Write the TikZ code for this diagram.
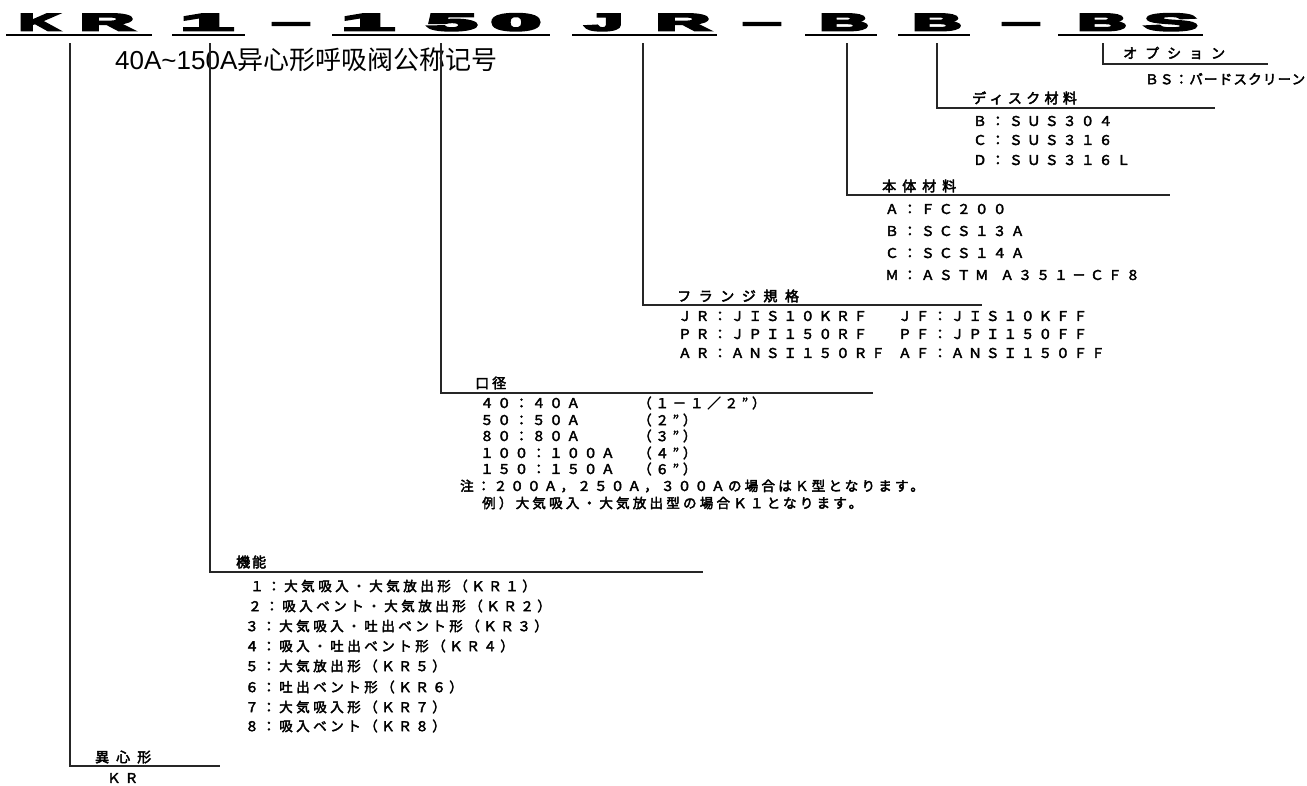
\documentclass[tikz,border=0pt]{standalone}
\usepackage{fontspec}
\setmainfont{Liberation Sans}
\newfontfamily\hvfont{Liberation Sans}[FakeBold=8]
\newfontfamily\jpfont{Noto Sans CJK JP}[FakeBold=3]
\newfontfamily\zhfont{Noto Sans CJK SC}
\newcommand\hc[2]{\scalebox{#1}[1]{#2}}
\tikzset{
  ln/.style={line width=1.3pt, draw=black!85},
  ul/.style={line width=1.8pt, draw=black},
  hd/.style={anchor=base, inner sep=0pt, font=\hvfont\bfseries\fontsize{24}{24}\selectfont},
  jt/.style={anchor=west, inner sep=0pt, font=\jpfont\fontsize{13.5}{13.5}\selectfont\addfontfeature{LetterSpace=#1}},
  jh/.style={anchor=west, inner sep=0pt, font=\jpfont\fontsize{14}{14}\selectfont\addfontfeature{LetterSpace=#1}},
}
\begin{document}
\begin{tikzpicture}[x=1pt,y=-1pt]
\useasboundingbox (0,0) rectangle (1307,785);
% header code
\node[hd] (hK) at (39,30.5) {\hc{2.3}{K}};
\node[hd] (hR) at (107,30.5) {\hc{3.1}{R}};
\node[hd] (h1) at (207,30.5) {\hc{3.9}{1}};
\node[hd] (dsh1) at (291,30.5) {\hc{2.8}{–}};
\node[hd] (h1b) at (368,30.5) {\hc{3.9}{1}};
\node[hd] (h5) at (452,30.5) {\hc{3.7}{5}};
\node[hd] (h0) at (516,30.5) {\hc{3.7}{0}};
\node[hd] (hJ) at (604,30.5) {\hc{2.8}{J}};
\node[hd] (hR2) at (683,30.5) {\hc{3.1}{R}};
\node[hd] (dsh2) at (762,30.5) {\hc{2.8}{–}};
\node[hd] (hB1) at (844,30.5) {\hc{2.8}{B}};
\node[hd] (hB2) at (937,30.5) {\hc{2.8}{B}};
\node[hd] (dsh3) at (1021,30.5) {\hc{2.8}{–}};
\node[hd] (hB3) at (1102,30.5) {\hc{2.8}{B}};
\node[hd] (hS) at (1171,30.5) {\hc{3.3}{S}};
% underlines
\coordinate (u1a) at (6,35);    \coordinate (u1b) at (152,35);
\coordinate (u2a) at (172,35);  \coordinate (u2b) at (245,35);
\coordinate (u3a) at (332,35);  \coordinate (u3b) at (550,35);
\coordinate (u4a) at (572,35);  \coordinate (u4b) at (717,35);
\coordinate (u5a) at (805,35);  \coordinate (u5b) at (877,35);
\coordinate (u6a) at (898,35);  \coordinate (u6b) at (970,35);
\coordinate (u7a) at (1058,35); \coordinate (u7b) at (1203,35);
\foreach \i in {1,...,7} {\draw[ul] (u\i a) -- (u\i b);}
% chinese title
\node[anchor=west, inner sep=0pt] (title) at (115,60)
  {\fontsize{26}{26}\selectfont 40A\textasciitilde150A\zhfont 异心形呼吸阀公称记号};
% option
\coordinate (o1) at (1103,43); \coordinate (o2) at (1103,64); \coordinate (o3) at (1268,64);
\draw[ln] (o1) -- (o2) -- (o3);
\node[jh=57] (optT) at (1123,53) {オプション};
\node[jt=9] (optA) at (1145,79) {ＢＳ：バードスクリーン};
% disc
\coordinate (d1) at (937,43); \coordinate (d2) at (937,108); \coordinate (d3) at (1215,108);
\draw[ln] (d1) -- (d2) -- (d3);
\node[jh=31] (discT) at (972,98) {ディスク材料};
\node[jt=33] (discB) at (973,121) {Ｂ：ＳＵＳ３０４};
\node[jt=33] (discC) at (973,140) {Ｃ：ＳＵＳ３１６};
\node[jt=33] (discD) at (973,160) {Ｄ：ＳＵＳ３１６Ｌ};
% body
\coordinate (b1) at (847,43); \coordinate (b2) at (847,195); \coordinate (b3) at (1170,195);
\draw[ln] (b1) -- (b2) -- (b3);
\node[jh=43] (bodyT) at (882,186) {本体材料};
\node[jt=33] (bodyA) at (885,209) {Ａ：ＦＣ２００};
\node[jt=33] (bodyB) at (885,231) {Ｂ：ＳＣＳ１３Ａ};
\node[jt=33] (bodyC) at (885,253) {Ｃ：ＳＣＳ１４Ａ};
\node[jt=33] (bodyM) at (885,275) {Ｍ：ＡＳＴＭ\hspace{12pt}Ａ３５１－ＣＦ８};
% flange
\coordinate (f1) at (643,43); \coordinate (f2) at (643,305); \coordinate (f3) at (982,305);
\draw[ln] (f1) -- (f2) -- (f3);
\node[jh=54] (flT) at (677,296) {フランジ規格};
\node[jt=30] (flJR) at (678,316) {ＪＲ：ＪＩＳ１０ＫＲＦ};
\node[jt=30] (flPR) at (678,334) {ＰＲ：ＪＰＩ１５０ＲＦ};
\node[jt=30] (flAR) at (678,353) {ＡＲ：ＡＮＳＩ１５０ＲＦ};
\node[jt=30] (flJF) at (898,316) {ＪＦ：ＪＩＳ１０ＫＦＦ};
\node[jt=30] (flPF) at (898,334) {ＰＦ：ＪＰＩ１５０ＦＦ};
\node[jt=30] (flAF) at (898,353) {ＡＦ：ＡＮＳＩ１５０ＦＦ};
% bore
\coordinate (s1) at (441,43); \coordinate (s2) at (441,393); \coordinate (s3) at (873,393);
\draw[ln] (s1) -- (s2) -- (s3);
\node[jh=21] (boreT) at (475,383) {口径};
\node[jt=28] (bore40) at (480,403) {４０：４０Ａ};
\node[jt=28] (bore50) at (480,420) {５０：５０Ａ};
\node[jt=28] (bore80) at (480,436) {８０：８０Ａ};
\node[jt=28] (bore100) at (480,453) {１００：１００Ａ};
\node[jt=28] (bore150) at (480,469) {１５０：１５０Ａ};
\node[jt=28] (in40) at (638,403) {（１－１／２”）};
\node[jt=28] (in50) at (638,420) {（２”）};
\node[jt=28] (in80) at (638,436) {（３”）};
\node[jt=28] (in100) at (638,453) {（４”）};
\node[jt=28] (in150) at (638,469) {（６”）};
\node[jt=24] (note1) at (460,486) {注：２００Ａ，２５０Ａ，３００Ａの場合はＫ型となります。};
\node[jt=24] (note2) at (482,503) {例）大気吸入・大気放出型の場合Ｋ１となります。};
% function
\coordinate (k1) at (210,43); \coordinate (k2) at (210,572); \coordinate (k3) at (703,572);
\draw[ln] (k1) -- (k2) -- (k3);
\node[jh=14] (funT) at (236,562) {機能};
\node[jt=26] (fun1) at (250,586) {１：大気吸入・大気放出形（ＫＲ１）};
\node[jt=26] (fun2) at (248,606) {２：吸入ベント・大気放出形（ＫＲ２）};
\node[jt=26] (fun3) at (245,626) {３：大気吸入・吐出ベント形（ＫＲ３）};
\node[jt=26] (fun4) at (245,646) {４：吸入・吐出ベント形（ＫＲ４）};
\node[jt=26] (fun5) at (245,666) {５：大気放出形（ＫＲ５）};
\node[jt=26] (fun6) at (245,687) {６：吐出ベント形（ＫＲ６）};
\node[jt=26] (fun7) at (245,707) {７：大気吸入形（ＫＲ７）};
\node[jt=26] (fun8) at (245,726) {８：吸入ベント（ＫＲ８）};
% type
\coordinate (t1) at (70,43); \coordinate (t2) at (70,766); \coordinate (t3) at (220,766);
\draw[ln] (t1) -- (t2) -- (t3);
\node[jh=50] (typT) at (95,757) {異心形};
\node[jt=30] (typKR) at (107,778) {ＫＲ};
\end{tikzpicture}
\end{document}
